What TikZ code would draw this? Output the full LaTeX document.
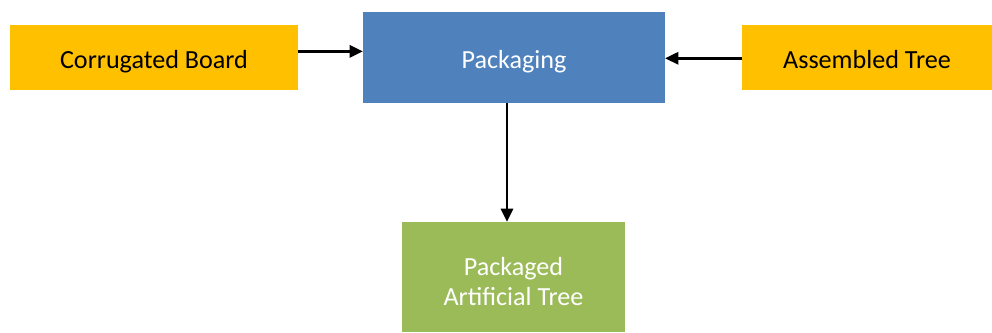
\documentclass[tikz,border=0pt]{standalone}
\usepackage{fontspec}
\setmainfont{Carlito}
\usetikzlibrary{arrows.meta}
\definecolor{boxorange}{HTML}{FFC000}
\definecolor{boxblue}{HTML}{4F81BD}
\definecolor{boxgreen}{HTML}{9BBB59}
\tikzset{
  px/.style={x=0.75pt,y=-0.75pt},
  box/.style={rectangle, inner sep=0pt, outer sep=0pt, font=\fontsize{19.6}{22.5}\selectfont, align=center, text height=15.8pt, text depth=0pt},
  inbox/.style={box, fill=boxorange, text=black},
  procbox/.style={box, fill=boxblue, text=white},
  outbox/.style={box, fill=boxgreen, text=white, text height=42pt, text depth=0pt},
  flow/.style={line width=2.2pt, -{Triangle[length=10pt,width=9pt]}}
}
\begin{document}
\begin{tikzpicture}[px]
\useasboundingbox (0,0) rectangle (992,332);
\node[inbox, minimum width=216pt, minimum height=48.75pt] (cb) at (154,57.5) {Corrugated Board};
\node[procbox, minimum width=226.5pt, minimum height=68.25pt] (pk) at (514,57.5) {Packaging};
\node[inbox, minimum width=187.5pt, minimum height=48.75pt] (at) at (867,57.5) {Assembled Tree};
\node[outbox, minimum width=167.25pt, minimum height=82.5pt] (pa) at (513.5,277) {Packaged\\Artificial Tree};
\draw[flow] ([yshift=4.6pt]cb.east) -- ([yshift=4.6pt]cb.east -| pk.west);
\draw[flow] ([yshift=-0.6pt]at.west) -- ([yshift=-0.6pt]at.west -| pk.east);
\draw[flow] ([xshift=-5.25pt]pk.south) -- ([xshift=-5.25pt]pk.south |- pa.north);
\end{tikzpicture}
\end{document}
